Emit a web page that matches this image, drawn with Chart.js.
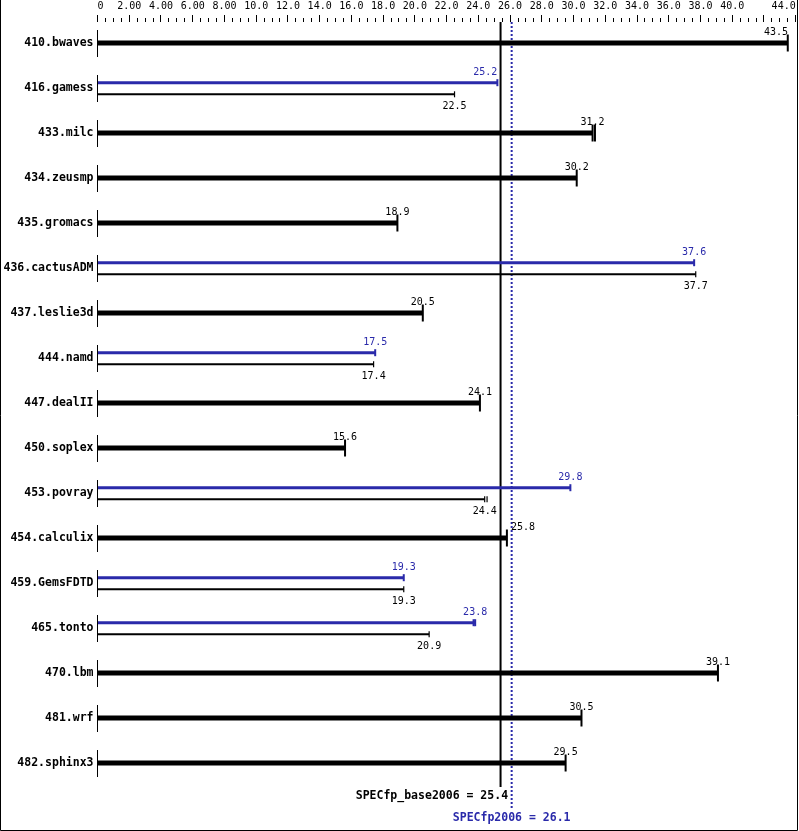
<!DOCTYPE html>
<html>
<head>
<meta charset="utf-8">
<script src="https://cdn.jsdelivr.net/npm/chart.js@4/dist/chart.umd.min.js"></script>
<style>
  body { margin: 0; background: #fff; }
  canvas { display: block; }
</style>
</head>
<body>
<canvas id="grafico" width="799" height="831"></canvas>
<script>
const benchmarks = ['410.bwaves', '416.gamess', '433.milc', '434.zeusmp', '435.gromacs', '436.cactusADM',
    '437.leslie3d', '444.namd', '447.dealII', '450.soplex', '453.povray', '454.calculix',
    '459.GemsFDTD', '465.tonto', '470.lbm', '481.wrf', '482.sphinx3']
const baseScores = [43.5, 22.5, 31.2, 30.2, 18.9, 37.7, 20.5, 17.4, 24.1, 15.6, 24.4, 25.8, 19.3, 20.9, 39.1, 30.5, 29.5]
const peakScores = [null, 25.2, null, null, null, 37.6, null, 17.5, null, null, 29.8, null, 19.3, 23.8, null, null, null]
// extra run marks next to the median [row, value]
const baseRuns = [[2, 31.35], [10, 24.55]]
const peakRuns = [[13, 23.7]]
const baseMean = 25.4
const peakMean = 26.1
const axisLabels = ['0', '2.00', '4.00', '6.00', '8.00', '10.0', '12.0', '14.0', '16.0', '18.0', '20.0',
    '22.0', '24.0', '26.0', '28.0', '30.0', '32.0', '34.0', '36.0', '38.0', '40.0', '', '44.0']

const mono = '"DejaVu Sans Mono", "Liberation Mono", monospace'
const blue = '#2a2aaa'
const rowPx = 45
const yMin = -21 / rowPx
const yMax = 16 + 24 / rowPx
const peakOff = -5.3 / rowPx
const baseOff = 6.3 / rowPx

const singleRows = benchmarks.map((b, i) => i).filter(i => peakScores[i] === null)
const dualRows = benchmarks.map((b, i) => i).filter(i => peakScores[i] !== null)

const axisSegments = []
benchmarks.forEach((b, i) => {
    axisSegments.push({ x: 0, y: i - 13 / rowPx }, { x: 0, y: i + 14 / rowPx }, { x: 0, y: null })
})

function valueLabel(ctx, xScale, v, y, color, lineX) {
    const txt = v.toFixed(1)
    const w = ctx.measureText(txt).width
    const end = xScale.getPixelForValue(v)
    let left = end - w / 2
    if (left < lineX + 1 && left + w > lineX - 1) {
        left = end < lineX ? end - w : end + 4
    }
    if (left + w > 788) left = 788 - w
    ctx.fillStyle = color
    ctx.fillText(txt, left, y)
}

const extras = {
    id: 'extras',
    afterDatasetsDraw(chart) {
        const { ctx } = chart
        const x = chart.scales.x
        const y = chart.scales.y
        const lineX = x.getPixelForValue(baseMean)
        ctx.save()
        ctx.font = '10px ' + mono
        ctx.textBaseline = 'middle'
        ctx.textAlign = 'left'
        benchmarks.forEach((b, i) => {
            const rowY = y.getPixelForValue(i)
            if (peakScores[i] === null) {
                valueLabel(ctx, x, baseScores[i], rowY - 11, '#000', lineX)
            } else {
                valueLabel(ctx, x, peakScores[i], rowY - 16, blue, lineX)
                valueLabel(ctx, x, baseScores[i], rowY + 18, '#000', lineX)
            }
        })
        ctx.font = 'bold 11.5px ' + mono
        ctx.textAlign = 'right'
        ctx.fillStyle = '#000'
        ctx.fillText('SPECfp_base2006 = ' + baseMean.toFixed(1), lineX + 7.5, 796)
        ctx.textAlign = 'center'
        ctx.fillStyle = blue
        ctx.fillText('SPECfp2006 = ' + peakMean.toFixed(1), x.getPixelForValue(peakMean), 818)

        // frame
        ctx.strokeStyle = '#000'
        ctx.lineWidth = 1
        ctx.beginPath()
        ctx.moveTo(0.5, 0)
        ctx.lineTo(0.5, 830.5)
        ctx.lineTo(797.5, 830.5)
        ctx.lineTo(797.5, 0)
        ctx.stroke()
        ctx.restore()
    }
}

const ctx = document.getElementById('grafico')

new Chart(ctx, {
    type: 'bar',
    data: {
        datasets: [
            {
                label: 'base',
                indexAxis: 'y',
                data: singleRows.map(i => ({ x: baseScores[i], y: i })),
                backgroundColor: '#000',
                barThickness: 5,
                grouped: false,
                inflateAmount: 0,
                borderWidth: 0
            },
            {
                label: 'peak',
                indexAxis: 'y',
                data: dualRows.map(i => ({ x: peakScores[i], y: i + peakOff })),
                backgroundColor: blue,
                barThickness: 3,
                grouped: false,
                inflateAmount: 0,
                borderWidth: 0
            },
            {
                label: 'base2',
                indexAxis: 'y',
                data: dualRows.map(i => ({ x: baseScores[i], y: i + baseOff })),
                backgroundColor: '#000',
                barThickness: 2,
                grouped: false,
                inflateAmount: 0,
                borderWidth: 0
            },
            {
                type: 'scatter',
                data: singleRows.map(i => ({ x: baseScores[i], y: i }))
                    .concat(baseRuns.filter(r => peakScores[r[0]] === null).map(r => ({ x: r[1], y: r[0] }))),
                pointStyle: 'line',
                rotation: 90,
                pointRadius: 8.5,
                borderWidth: 2,
                borderColor: '#000',
                backgroundColor: '#000',
                clip: false
            },
            {
                type: 'scatter',
                data: dualRows.map(i => ({ x: peakScores[i], y: i + peakOff }))
                    .concat(peakRuns.map(r => ({ x: r[1], y: r[0] + peakOff }))),
                pointStyle: 'line',
                rotation: 90,
                pointRadius: 3.5,
                borderWidth: 2,
                borderColor: blue,
                backgroundColor: blue,
                clip: false
            },
            {
                type: 'scatter',
                data: dualRows.map(i => ({ x: baseScores[i], y: i + baseOff }))
                    .concat(baseRuns.filter(r => peakScores[r[0]] !== null).map(r => ({ x: r[1], y: r[0] + baseOff }))),
                pointStyle: 'line',
                rotation: 90,
                pointRadius: 3,
                borderWidth: 1.2,
                borderColor: '#000',
                backgroundColor: '#000',
                clip: false
            },
            {
                type: 'line',
                data: axisSegments,
                borderColor: '#000',
                borderWidth: 1,
                pointRadius: 0,
                fill: false,
                spanGaps: false,
                clip: false
            },
            {
                type: 'line',
                data: [{ x: baseMean, y: yMin }, { x: baseMean, y: yMax }],
                borderColor: '#000',
                borderWidth: 2,
                pointRadius: 0,
                fill: false,
                clip: false
            },
            {
                type: 'line',
                data: [{ x: peakMean, y: yMin }, { x: peakMean, y: yMax + 21 / rowPx }],
                borderColor: blue,
                borderWidth: 2,
                borderDash: [2, 2],
                pointRadius: 0,
                fill: false,
                clip: false
            }
        ]
    },
    options: {
        responsive: false,
        animation: false,
        events: [],
        layout: { autoPadding: false, padding: { left: 0, top: 0, right: 3.3, bottom: 44 } },
        plugins: {
            legend: { display: false },
            tooltip: { enabled: false }
        },
        scales: {
            x: {
                type: 'linear',
                position: 'top',
                offset: false,
                min: 0,
                max: 44,
                border: { display: false },
                grid: {
                    offset: false,
                    drawOnChartArea: false,
                    drawTicks: true,
                    tickLength: 7,
                    tickColor: '#000',
                    tickWidth: 1,
                    tickBorderDash: c => (c.tick && c.tick.value % 2 !== 0) ? [0, 3, 4, 0] : []
                },
                ticks: {
                    autoSkip: false,
                    maxRotation: 0,
                    minRotation: 0,
                    padding: 3,
                    color: '#000',
                    font: { family: mono, size: 10, lineHeight: 1.2 },
                    callback: v => {
                        if (v % 2 !== 0) return ''
                        const lab = axisLabels[v / 2]
                        if (v === 0) return ' ' + lab
                        return v === 44 ? lab + '    ' : lab
                    }
                },
                afterBuildTicks: s => {
                    const t = []
                    for (let v = 0; v <= 44; v += 0.5) t.push({ value: v })
                    s.ticks = t
                },
                afterFit: s => {
                    s.height = 22
                    s.paddingLeft = 0
                    s.paddingRight = 0
                }
            },
            y: {
                type: 'linear',
                offset: false,
                reverse: true,
                min: yMin,
                max: yMax,
                border: { display: false },
                grid: { offset: false, display: false, drawTicks: false },
                ticks: {
                    autoSkip: false,
                    padding: 4,
                    color: '#000',
                    font: { family: mono, size: 11.5, weight: 'bold' },
                    callback: v => benchmarks[v] || ''
                },
                afterBuildTicks: s => {
                    s.ticks = benchmarks.map((b, i) => ({ value: i }))
                },
                afterFit: s => {
                    s.width = 97.5
                    s.paddingTop = 0
                    s.paddingBottom = 0
                }
            }
        }
    },
    plugins: [extras]
});
</script>
</body>
</html>
